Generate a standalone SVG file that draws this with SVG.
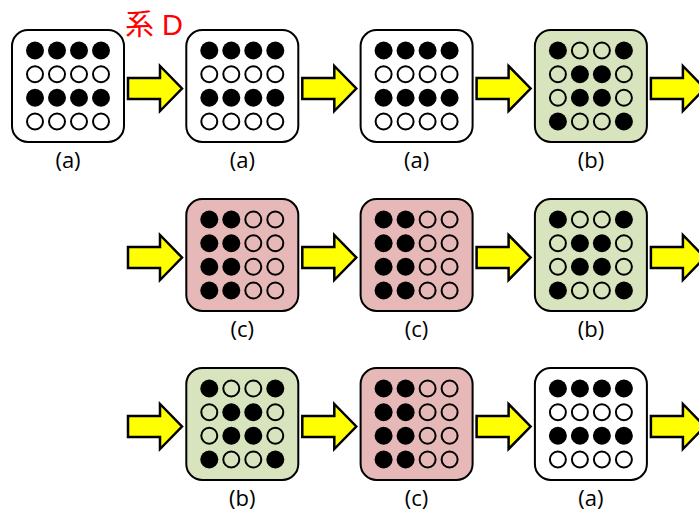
<svg xmlns="http://www.w3.org/2000/svg" xmlns:xlink="http://www.w3.org/1999/xlink" width="699" height="514" viewBox="0 0 699 514">
<style>
.box{stroke:#000;stroke-width:2}
.w{fill:#fff}
.g{fill:#d7e4bd}
.p{fill:#e6b9b8}
.f{fill:#000}
.o{fill:none;stroke:#000;stroke-width:2}
.lbl{font-family:"Open Sans","Liberation Sans",sans-serif;font-size:22px;fill:#000;text-anchor:middle}
.arr{fill:#ffff00;stroke:#000;stroke-width:2.5;stroke-linejoin:miter}
.title{font-family:"Liberation Sans","Noto Sans CJK JP",sans-serif;font-size:29px;fill:#ff0000}
</style>
<defs>
<path id="arrow" class="arr" d="M128,78 H160 V66 L182,88.5 L160,111 V99 H128 Z"/>
<g id="pa">
<circle class="f" cx="23" cy="20.5" r="9"/><circle class="f" cx="45" cy="20.5" r="9"/><circle class="f" cx="67" cy="20.5" r="9"/><circle class="f" cx="89" cy="20.5" r="9"/>
<circle class="o" cx="23" cy="44.25" r="8"/><circle class="o" cx="45" cy="44.25" r="8"/><circle class="o" cx="67" cy="44.25" r="8"/><circle class="o" cx="89" cy="44.25" r="8"/>
<circle class="f" cx="23" cy="67.75" r="9"/><circle class="f" cx="45" cy="67.75" r="9"/><circle class="f" cx="67" cy="67.75" r="9"/><circle class="f" cx="89" cy="67.75" r="9"/>
<circle class="o" cx="23" cy="91.5" r="8"/><circle class="o" cx="45" cy="91.5" r="8"/><circle class="o" cx="67" cy="91.5" r="8"/><circle class="o" cx="89" cy="91.5" r="8"/>
</g>
<g id="pb">
<circle class="f" cx="23" cy="20.5" r="9"/><circle class="o" cx="45" cy="20.5" r="8"/><circle class="o" cx="67" cy="20.5" r="8"/><circle class="f" cx="89" cy="20.5" r="9"/>
<circle class="o" cx="23" cy="44.25" r="8"/><circle class="f" cx="45" cy="44.25" r="9"/><circle class="f" cx="67" cy="44.25" r="9"/><circle class="o" cx="89" cy="44.25" r="8"/>
<circle class="o" cx="23" cy="67.75" r="8"/><circle class="f" cx="45" cy="67.75" r="9"/><circle class="f" cx="67" cy="67.75" r="9"/><circle class="o" cx="89" cy="67.75" r="8"/>
<circle class="f" cx="23" cy="91.5" r="9"/><circle class="o" cx="45" cy="91.5" r="8"/><circle class="o" cx="67" cy="91.5" r="8"/><circle class="f" cx="89" cy="91.5" r="9"/>
</g>
<g id="pc">
<circle class="f" cx="23" cy="20.5" r="9"/><circle class="f" cx="45" cy="20.5" r="9"/><circle class="o" cx="67" cy="20.5" r="8"/><circle class="o" cx="89" cy="20.5" r="8"/>
<circle class="f" cx="23" cy="44.25" r="9"/><circle class="f" cx="45" cy="44.25" r="9"/><circle class="o" cx="67" cy="44.25" r="8"/><circle class="o" cx="89" cy="44.25" r="8"/>
<circle class="f" cx="23" cy="67.75" r="9"/><circle class="f" cx="45" cy="67.75" r="9"/><circle class="o" cx="67" cy="67.75" r="8"/><circle class="o" cx="89" cy="67.75" r="8"/>
<circle class="f" cx="23" cy="91.5" r="9"/><circle class="f" cx="45" cy="91.5" r="9"/><circle class="o" cx="67" cy="91.5" r="8"/><circle class="o" cx="89" cy="91.5" r="8"/>
</g>
</defs>
<rect x="0" y="0" width="699" height="514" fill="#fff"/>
<text class="title" x="125" y="35">系 D</text>

<g id="connectors">
<use xlink:href="#arrow" href="#arrow"/>
<use xlink:href="#arrow" href="#arrow" transform="translate(174.3,0)"/>
<use xlink:href="#arrow" href="#arrow" transform="translate(348.6,0)"/>
<use xlink:href="#arrow" href="#arrow" transform="translate(522.9,0)"/>
<use xlink:href="#arrow" href="#arrow" transform="translate(0,169)"/>
<use xlink:href="#arrow" href="#arrow" transform="translate(174.3,169)"/>
<use xlink:href="#arrow" href="#arrow" transform="translate(348.6,169)"/>
<use xlink:href="#arrow" href="#arrow" transform="translate(522.9,169)"/>
<use xlink:href="#arrow" href="#arrow" transform="translate(0,338)"/>
<use xlink:href="#arrow" href="#arrow" transform="translate(174.3,338)"/>
<use xlink:href="#arrow" href="#arrow" transform="translate(348.6,338)"/>
<use xlink:href="#arrow" href="#arrow" transform="translate(522.9,338)"/>
</g>

<g id="n1" transform="translate(12,30)"><rect class="box w" x="0" y="0" width="112" height="112" rx="16"/><use xlink:href="#pa" href="#pa"/><text class="lbl" x="56" y="138">(a)</text></g>
<g id="n2" transform="translate(186.3,30)"><rect class="box w" x="0" y="0" width="112" height="112" rx="16"/><use xlink:href="#pa" href="#pa"/><text class="lbl" x="56" y="138">(a)</text></g>
<g id="n3" transform="translate(360.6,30)"><rect class="box w" x="0" y="0" width="112" height="112" rx="16"/><use xlink:href="#pa" href="#pa"/><text class="lbl" x="56" y="138">(a)</text></g>
<g id="n4" transform="translate(534.9,30)"><rect class="box g" x="0" y="0" width="112" height="112" rx="16"/><use xlink:href="#pb" href="#pb"/><text class="lbl" x="56" y="138">(b)</text></g>

<g id="n5" transform="translate(186.3,199)"><rect class="box p" x="0" y="0" width="112" height="112" rx="16"/><use xlink:href="#pc" href="#pc"/><text class="lbl" x="56" y="138">(c)</text></g>
<g id="n6" transform="translate(360.6,199)"><rect class="box p" x="0" y="0" width="112" height="112" rx="16"/><use xlink:href="#pc" href="#pc"/><text class="lbl" x="56" y="138">(c)</text></g>
<g id="n7" transform="translate(534.9,199)"><rect class="box g" x="0" y="0" width="112" height="112" rx="16"/><use xlink:href="#pb" href="#pb"/><text class="lbl" x="56" y="138">(b)</text></g>

<g id="n8" transform="translate(186.3,368)"><rect class="box g" x="0" y="0" width="112" height="112" rx="16"/><use xlink:href="#pb" href="#pb"/><text class="lbl" x="56" y="138">(b)</text></g>
<g id="n9" transform="translate(360.6,368)"><rect class="box p" x="0" y="0" width="112" height="112" rx="16"/><use xlink:href="#pc" href="#pc"/><text class="lbl" x="56" y="138">(c)</text></g>
<g id="n10" transform="translate(534.9,368)"><rect class="box w" x="0" y="0" width="112" height="112" rx="16"/><use xlink:href="#pa" href="#pa"/><text class="lbl" x="56" y="138">(a)</text></g>
</svg>
